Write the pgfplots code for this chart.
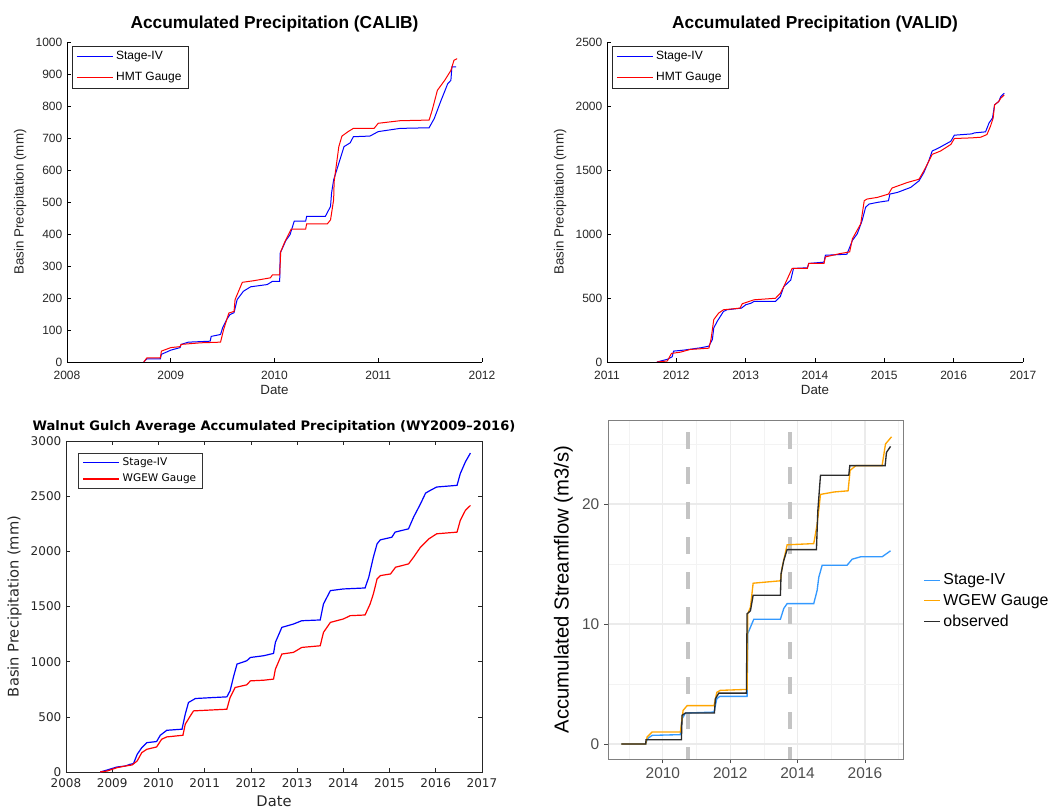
\documentclass[border=0pt]{standalone}
\usepackage{fontspec}
\setmainfont{Liberation Sans}
\newfontfamily\dejavu{DejaVu Sans}
\usepackage{pgfplots}
\pgfplotsset{compat=1.18}
\pgfkeys{/pgf/number format/.cd,1000 sep={},assume math mode=true}
\definecolor{mtext}{HTML}{262626}
\definecolor{s4}{HTML}{3399FF}
\definecolor{wg}{HTML}{FFA500}
\definecolor{obs}{HTML}{2B2B2B}
\definecolor{gridc}{HTML}{EBEBEB}
\definecolor{gridm}{HTML}{F3F3F3}
\definecolor{dashc}{HTML}{C4C4C4}
\definecolor{ggtick}{HTML}{4D4D4D}
\pgfplotsset{
  matlabold/.style={
    scale only axis, anchor=south west,
    axis x line*=bottom, axis y line*=left, axis line style={-,black},
    tick align=inside, major tick length=3pt, scaled ticks=false,
    tick style={black, line width=0.4pt},
    ticklabel style={font=\fontsize{9}{10}\selectfont, text=mtext},
    xticklabel style={yshift=-3pt},
    label style={font=\fontsize{10}{12}\selectfont, text=mtext},
    xlabel style={yshift=2pt},
    title style={font=\bfseries\fontsize{13}{15}\selectfont, yshift=-2pt},
    legend style={at={(0.012,0.988)}, anchor=north west, draw=black!85, line width=0.6pt,
      font=\fontsize{9}{10}\selectfont, inner xsep=3pt, inner ysep=2pt, row sep=4pt},
    legend cell align=left,
    legend image code/.code={\draw[#1, line width=0.8pt] (0pt,0pt) -- (27pt,0pt);},
    every axis plot/.append style={line width=0.75pt},
  }
}
\begin{document}
\begin{tikzpicture}
\useasboundingbox (0,0) rectangle (790.5pt,606pt);
% ---------------- Panel 1 ----------------
\begin{axis}[matlabold, at={(50.25pt,334.5pt)}, width=311.25pt, height=240pt,
  xmin=2008, xmax=2012, ymin=0, ymax=1000,
  xtick={2008,2009,2010,2011,2012}, ytick={0,100,...,1000},
  title={Accumulated Precipitation (CALIB)}, xlabel={Date}, ylabel={Basin Precipitation (mm)}]
\addplot[blue] coordinates {(2008.74,0) (2008.77,10) (2008.90,10) (2008.91,24) (2009.0,37) (2009.09,45) (2009.10,55) (2009.17,62) (2009.38,65) (2009.39,80) (2009.48,86) (2009.50,107) (2009.54,133) (2009.57,148) (2009.61,154) (2009.64,195) (2009.70,221) (2009.77,235) (2009.93,242) (2009.98,252) (2010.05,252) (2010.055,340) (2010.11,380) (2010.15,398) (2010.19,440) (2010.30,440) (2010.31,455) (2010.49,455) (2010.54,486) (2010.55,528) (2010.57,569) (2010.62,621) (2010.67,673) (2010.73,685) (2010.76,704) (2010.92,706) (2011.0,720) (2011.21,730) (2011.49,732) (2011.54,761) (2011.60,813) (2011.67,870) (2011.70,880) (2011.71,922) (2011.75,922)};
\addplot[red] coordinates {(2008.74,0) (2008.77,13) (2008.90,13) (2008.91,34) (2009.0,45) (2009.09,48) (2009.10,55) (2009.29,60) (2009.48,62) (2009.51,102) (2009.56,153) (2009.61,158) (2009.62,195) (2009.66,226) (2009.69,249) (2009.80,254) (2009.96,263) (2009.98,272) (2010.05,272) (2010.06,345) (2010.10,376) (2010.16,415) (2010.30,415) (2010.31,432) (2010.51,432) (2010.54,444) (2010.57,507) (2010.575,564) (2010.62,673) (2010.65,706) (2010.71,720) (2010.76,730) (2010.96,730) (2011.0,746) (2011.21,754) (2011.49,756) (2011.52,787) (2011.57,849) (2011.64,880) (2011.70,911) (2011.73,943) (2011.76,948)};
\legend{Stage-IV, HMT Gauge}
\end{axis}
% ---------------- Panel 2 ----------------
\begin{axis}[matlabold, at={(455.25pt,334.5pt)}, width=312pt, height=240pt,
  xmin=2011, xmax=2017, ymin=0, ymax=2500,
  xtick={2011,...,2017}, ytick={0,500,...,2500},
  title={Accumulated Precipitation (VALID)}, xlabel={Date}, ylabel={Basin Precipitation (mm)}]
\addplot[blue] coordinates {(2011.72,0) (2011.87,21) (2011.94,41) (2011.96,85) (2012.11,93) (2012.35,111) (2012.47,124) (2012.52,176) (2012.54,266) (2012.59,318) (2012.68,395) (2012.73,408) (2012.94,421) (2013.0,447) (2013.08,460) (2013.12,473) (2013.43,473) (2013.50,512) (2013.55,589) (2013.65,640) (2013.69,731) (2013.89,736) (2013.91,770) (2014.13,780) (2014.15,834) (2014.46,842) (2014.54,950) (2014.61,1002) (2014.68,1105) (2014.73,1209) (2014.78,1234) (2014.90,1247) (2015.06,1260) (2015.08,1312) (2015.19,1325) (2015.38,1364) (2015.50,1415) (2015.57,1480) (2015.64,1570) (2015.69,1648) (2015.79,1674) (2015.96,1725) (2016.01,1772) (2016.26,1782) (2016.30,1790) (2016.46,1798) (2016.51,1867) (2016.56,1906) (2016.59,2009) (2016.65,2035) (2016.68,2074) (2016.73,2100)};
\addplot[red] coordinates {(2011.72,0) (2011.87,8) (2011.93,67) (2012.06,77) (2012.20,98) (2012.47,108) (2012.50,176) (2012.54,331) (2012.61,382) (2012.68,408) (2012.92,421) (2012.95,455) (2013.12,486) (2013.43,498) (2013.50,537) (2013.55,589) (2013.67,731) (2013.89,731) (2013.91,770) (2014.13,770) (2014.15,821) (2014.36,847) (2014.50,860) (2014.54,963) (2014.66,1080) (2014.71,1260) (2014.75,1273) (2014.90,1286) (2015.06,1312) (2015.11,1359) (2015.33,1402) (2015.50,1428) (2015.57,1493) (2015.69,1622) (2015.81,1648) (2015.96,1700) (2016.01,1746) (2016.26,1751) (2016.39,1756) (2016.48,1777) (2016.53,1841) (2016.57,1906) (2016.59,2009) (2016.65,2035) (2016.68,2061) (2016.73,2087)};
\legend{Stage-IV, HMT Gauge}
\end{axis}
% ---------------- Panel 3 ----------------
\begin{axis}[scale only axis, anchor=south west, at={(49.5pt,27pt)}, width=312pt, height=248.25pt,
  xmin=2008, xmax=2017, ymin=0, ymax=3000,
  xtick={2008,...,2017}, ytick={0,500,...,3000}, scaled ticks=false,
  axis line style={mtext, line width=0.5pt}, tick align=inside, major tick length=3pt,
  tick style={mtext, line width=0.5pt},
  ticklabel style={font=\dejavu\fontsize{9}{10}\selectfont, text=mtext},
  xticklabel style={yshift=-1.5pt},
  label style={font=\dejavu\fontsize{11}{13}\selectfont, text=mtext},
  xlabel style={yshift=1pt},
  title style={font=\dejavu\bfseries\fontsize{9.8}{11}\selectfont, yshift=-4pt},
  title={Walnut Gulch Average Accumulated Precipitation (WY2009–2016)},
  xlabel={Date}, ylabel={Basin Precipitation (mm)},
  legend style={at={(0.03,0.965)}, anchor=north west, draw=black!80, line width=0.6pt,
      font=\dejavu\fontsize{7.9}{9}\selectfont, inner xsep=3pt, inner ysep=1.5pt, row sep=1pt},
  legend cell align=left,
  legend image code/.code={\draw[#1, line width=0.9pt] (0pt,0pt) -- (27pt,0pt);},
  every axis plot/.append style={line width=0.9pt}]
\addplot[blue] coordinates {(2008.74,0) (2008.89,18) (2009.10,45) (2009.28,54) (2009.39,70) (2009.46,76) (2009.54,160) (2009.64,221) (2009.75,266) (2009.96,276) (2010.04,333) (2010.18,378) (2010.51,388) (2010.58,524) (2010.65,630) (2010.80,666) (2011.19,675) (2011.48,681) (2011.55,736) (2011.63,872) (2011.70,978) (2011.91,1008) (2011.99,1038) (2012.28,1054) (2012.49,1075) (2012.53,1175) (2012.67,1311) (2012.92,1341) (2013.10,1371) (2013.50,1378) (2013.57,1523) (2013.72,1644) (2014.00,1659) (2014.47,1668) (2014.55,1765) (2014.65,1947) (2014.73,2068) (2014.80,2104) (2015.05,2128) (2015.12,2174) (2015.41,2204) (2015.52,2310) (2015.67,2431) (2015.78,2528) (2015.88,2552) (2016.02,2583) (2016.46,2598) (2016.53,2704) (2016.64,2810) (2016.75,2891)};
\addplot[red] coordinates {(2008.74,0) (2008.89,9) (2009.10,39) (2009.28,54) (2009.43,64) (2009.54,100) (2009.64,176) (2009.75,206) (2009.96,227) (2010.07,297) (2010.18,318) (2010.53,333) (2010.58,433) (2010.69,509) (2010.76,554) (2011.48,569) (2011.55,675) (2011.66,766) (2011.91,790) (2011.99,826) (2012.28,832) (2012.49,842) (2012.53,932) (2012.67,1069) (2012.92,1084) (2013.10,1129) (2013.50,1144) (2013.57,1265) (2013.72,1356) (2014.00,1387) (2014.15,1417) (2014.47,1423) (2014.58,1523) (2014.65,1614) (2014.73,1750) (2014.80,1780) (2015.02,1795) (2015.13,1856) (2015.41,1886) (2015.52,1947) (2015.67,2038) (2015.85,2113) (2016.02,2159) (2016.46,2174) (2016.53,2280) (2016.64,2371) (2016.75,2416)};
\legend{Stage-IV, WGEW Gauge}
\end{axis}
% ---------------- Panel 4 ----------------
\begin{axis}[scale only axis, anchor=south west, at={(456pt,36.75pt)}, width=221.25pt, height=254.25pt,
  xmin=2008.37, xmax=2017.13, ymin=-1.25, ymax=27,
  xtick={2010,2012,2014,2016}, minor xtick={2009,2011,2013,2015,2017},
  ytick={0,10,20}, minor ytick={5,15,25},
  xtick pos=bottom, ytick pos=left,
  grid=both, major grid style={gridc, line width=0.9pt}, minor grid style={gridm, line width=0.6pt},
  axis line style={black!50, line width=0.6pt},
  tick align=outside, major tick length=3pt, minor tick length=0pt,
  tick style={black!70, line width=0.6pt}, scaled ticks=false,
  ticklabel style={font=\fontsize{11.6}{13}\selectfont, text=ggtick},
  ylabel style={font=\fontsize{15.2}{17}\selectfont},
  ylabel={Accumulated Streamflow (m3/s)},
  legend style={at={(1.055,0.466)}, anchor=west, draw=none, fill=none,
      font=\fontsize{11.9}{13}\selectfont, row sep=1.5pt},
  legend cell align=left,
  legend image code/.code={\draw[#1, line width=1pt] (0pt,0pt) -- (12pt,0pt);},
  every axis plot/.append style={line width=1pt}]
\addplot[dashc, line width=3pt, dash pattern=on 12.75pt off 13.5pt, forget plot] coordinates {(2010.74,26) (2010.74,-1.25)};
\addplot[dashc, line width=3pt, dash pattern=on 12.75pt off 13.5pt, forget plot] coordinates {(2013.78,26) (2013.78,-1.25)};
\addplot[s4] coordinates {(2008.77,0) (2009.49,0) (2009.54,0.44) (2009.68,0.72) (2010.52,0.78) (2010.57,2.1) (2010.67,2.58) (2011.52,2.66) (2011.60,3.77) (2011.69,3.97) (2012.50,3.97) (2012.52,9.2) (2012.70,10.4) (2013.49,10.4) (2013.59,11.3) (2013.69,11.7) (2014.48,11.7) (2014.58,12.8) (2014.63,13.9) (2014.73,14.9) (2015.47,14.9) (2015.62,15.4) (2015.87,15.6) (2016.51,15.6) (2016.76,16.1)};
\addplot[wg] coordinates {(2008.77,0) (2009.49,0) (2009.53,0.58) (2009.68,1.0) (2010.52,1.0) (2010.60,2.8) (2010.72,3.2) (2011.52,3.2) (2011.60,4.3) (2011.70,4.47) (2012.50,4.55) (2012.52,10.85) (2012.60,11.4) (2012.68,13.4) (2013.49,13.6) (2013.54,14.7) (2013.69,16.6) (2014.48,16.7) (2014.58,18.3) (2014.68,20.8) (2015.08,21.0) (2015.50,21.1) (2015.56,22.8) (2015.73,23.2) (2016.51,23.2) (2016.61,25.0) (2016.79,25.6)};
\addplot[obs] coordinates {(2008.77,0) (2009.49,0) (2009.50,0.36) (2010.55,0.36) (2010.57,2.39) (2010.67,2.58) (2011.53,2.58) (2011.56,3.77) (2011.66,4.24) (2012.48,4.24) (2012.50,10.85) (2012.60,11.1) (2012.68,12.4) (2013.49,12.4) (2013.51,14.2) (2013.59,15.3) (2013.69,16.2) (2014.56,16.2) (2014.60,19.4) (2014.68,22.4) (2015.52,22.4) (2015.55,23.2) (2016.60,23.2) (2016.64,24.3) (2016.76,24.8)};
\legend{Stage-IV, WGEW Gauge, observed}
\end{axis}
\end{tikzpicture}
\end{document}
